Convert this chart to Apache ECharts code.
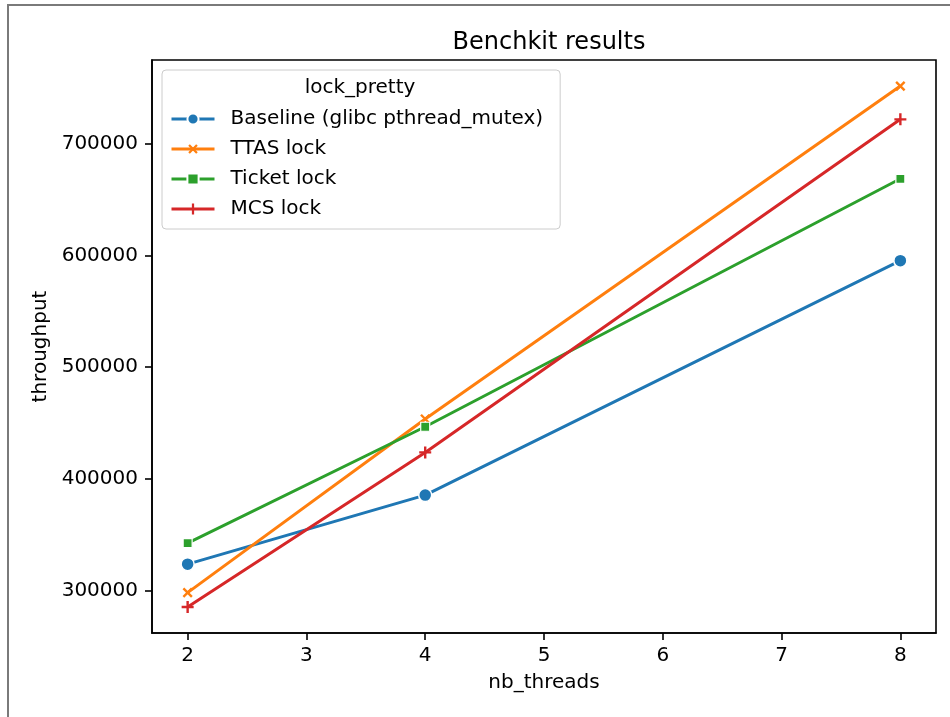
<!DOCTYPE html>
<html>
<head>
<meta charset="utf-8">
<style>
  html, body { margin: 0; padding: 0; background: #fff; }
  #chart { width: 950px; height: 717px; }
</style>
<script src="https://cdn.jsdelivr.net/npm/echarts@6/dist/echarts.min.js"></script>
</head>
<body>
<div id="chart"></div>
<script>
// Benchmark throughput per lock implementation
const threadCounts = [2, 4, 8];
const seriesNames = ['Baseline (glibc pthread_mutex)', 'TTAS lock', 'Ticket lock', 'MCS lock'];
const baseline = [323700, 385500, 595300];
const ttasLock = [298200, 453600, 751600];
const ticketLock = [342600, 446700, 668600];
const mcsLock = [285400, 423700, 721800];
const xTicks = [2, 3, 4, 5, 6, 7, 8];
const yTicks = [300000, 400000, 500000, 600000, 700000];

const colors = ['#1f77b4', '#ff7f0e', '#2ca02c', '#d62728'];
const FONT = 'DejaVu Sans';

// matplotlib-style 5% padding around the data range
function padded(vals) {
  const lo = Math.min(...vals), hi = Math.max(...vals);
  const m = (hi - lo) * 0.05;
  return [lo - m, hi + m];
}
const [xMin, xMax] = padded(threadCounts);
const [yMin, yMax] = padded([].concat(baseline, ttasLock, ticketLock, mcsLock));

const plusPath = 'path://M4,0H6V10H4Z M0,4H10V6H0Z';
const markers = [
  { symbol: 'circle', symbolSize: 13, symbolRotate: 0, border: 1.5 },
  { symbol: plusPath, symbolSize: 12, symbolRotate: 45, border: 0 },
  { symbol: 'rect', symbolSize: 9, symbolRotate: 0, border: 1.2 },
  { symbol: plusPath, symbolSize: 12, symbolRotate: 0, border: 0 }
];
const values = [baseline, ttasLock, ticketLock, mcsLock];

const series = seriesNames.map((name, i) => ({
  name: name,
  type: 'line',
  data: threadCounts.map((x, j) => [x, values[i][j]]),
  symbol: markers[i].symbol,
  symbolSize: markers[i].symbolSize,
  symbolRotate: markers[i].symbolRotate,
  showSymbol: true,
  lineStyle: { color: colors[i], width: 3 },
  itemStyle: { color: colors[i], borderColor: '#fff', borderWidth: markers[i].border },
  emphasis: { disabled: true },
  z: 2 + i
}));

const chart = echarts.init(document.getElementById('chart'), null, { renderer: 'canvas' });
chart.setOption({
  animation: false,
  backgroundColor: '#fff',
  textStyle: { fontFamily: FONT },
  title: {
    text: 'Benchkit results',
    left: 544,
    top: 26,
    textAlign: 'center',
    textStyle: { fontFamily: FONT, fontSize: 24, fontWeight: 'normal', color: '#000' }
  },
  grid: {
    left: 152, top: 60, right: 14, bottom: 84,
    show: true, borderColor: '#000', borderWidth: 1.6, backgroundColor: 'transparent'
  },
  legend: {
    orient: 'vertical',
    left: 162,
    top: 70,
    padding: [39, 17, 10, 8],
    itemGap: 10,
    itemWidth: 43,
    itemHeight: 14,
    backgroundColor: 'rgba(255,255,255,0.8)',
    borderColor: '#cccccc',
    borderWidth: 1,
    borderRadius: 4,
    data: seriesNames,
    lineStyle: { width: 3 },
    textStyle: { fontFamily: FONT, fontSize: 20, color: '#000', lineHeight: 20, padding: [0, 0, 0, 11] },
    z: 10
  },
  graphic: [
    {
      type: 'text',
      x: 360, y: 88, z: 100,
      style: { text: 'lock_pretty', font: '20px "DejaVu Sans"', fill: '#000', textAlign: 'center', textVerticalAlign: 'middle' }
    },
    {
      type: 'rect',
      shape: { x: 8, y: 5, width: 980, height: 760 },
      style: { fill: 'none', stroke: '#7a7a7a', lineWidth: 2 },
      silent: true, z: 100
    }
  ],
  xAxis: {
    type: 'value',
    min: xMin, max: xMax,
    name: 'nb_threads',
    nameLocation: 'middle',
    nameGap: 40,
    nameTextStyle: { fontFamily: FONT, fontSize: 20, color: '#000' },
    axisLine: { show: true, lineStyle: { color: '#000', width: 1.6 } },
    axisTick: { show: true, length: 7, lineStyle: { color: '#000', width: 1.6 }, customValues: xTicks },
    axisLabel: { fontFamily: FONT, fontSize: 20, color: '#000', margin: 13, customValues: xTicks },
    splitLine: { show: false }
  },
  yAxis: {
    type: 'value',
    min: yMin, max: yMax,
    name: 'throughput',
    nameLocation: 'middle',
    nameGap: 96,
    nameRotate: 90,
    nameTextStyle: { fontFamily: FONT, fontSize: 20, color: '#000' },
    axisLine: { show: true, lineStyle: { color: '#000', width: 1.6 } },
    axisTick: { show: true, length: 7, lineStyle: { color: '#000', width: 1.6 }, customValues: yTicks },
    axisLabel: {
      fontFamily: FONT, fontSize: 20, color: '#000', margin: 14, customValues: yTicks,
      formatter: v => String(Math.round(v))
    },
    splitLine: { show: false }
  },
  series: series
});
</script>
</body>
</html>
